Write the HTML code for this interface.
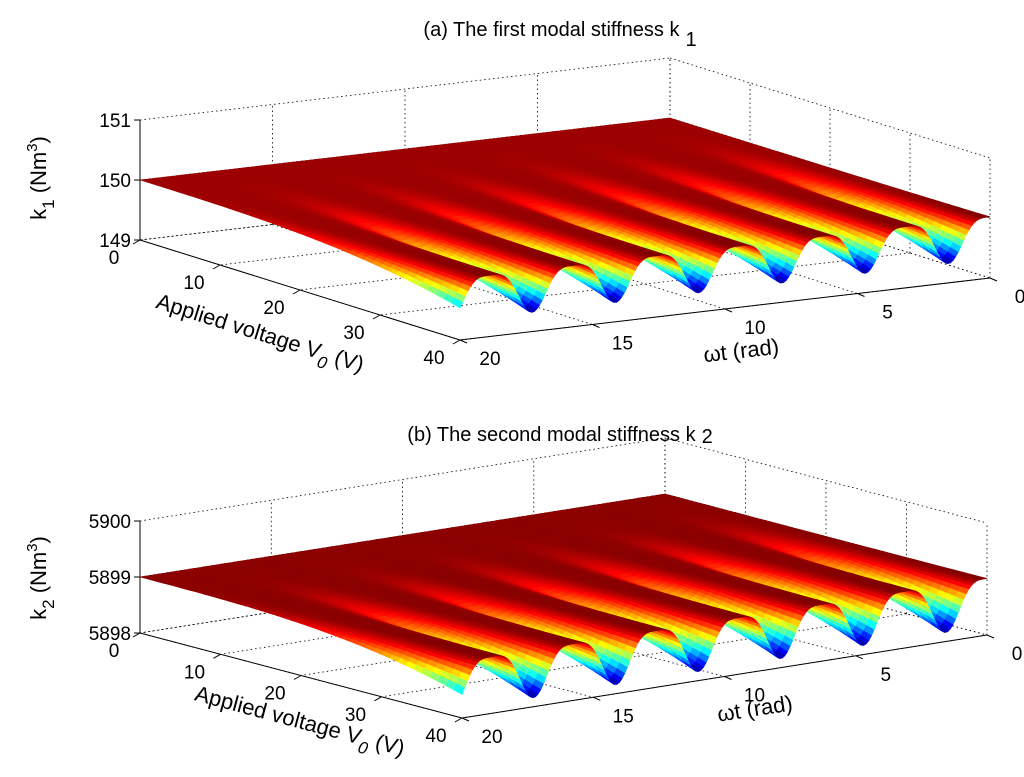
<!DOCTYPE html>
<html><head><meta charset="utf-8">
<style>
html,body{margin:0;padding:0;background:#fff;}
svg{display:block;font-family:"Liberation Sans",Arial,sans-serif;}
</style></head>
<body>
<svg id="fig" width="1024" height="777" viewBox="0 0 1024 777" xmlns="http://www.w3.org/2000/svg">
  <rect width="1024" height="777" fill="#fff"/>
  <g id="plotA"></g>
  <g id="plotB"></g>
  <text x="560" y="36" font-size="20" text-anchor="middle">(a) The first modal stiffness k<tspan dx="6" dy="10" font-size="20">1</tspan></text>
  <text x="560" y="441" font-size="20" text-anchor="middle">(b) The second modal stiffness k<tspan dx="6" dy="2" font-size="20">2</tspan></text>
  <text transform="translate(46,178) rotate(-90)" font-size="22" text-anchor="middle">k<tspan dy="8" font-size="17">1</tspan><tspan dy="-8">  (Nm</tspan><tspan dy="-9" font-size="15">3</tspan><tspan dy="9">)</tspan></text>
  <text transform="translate(46,578) rotate(-90)" font-size="22" text-anchor="middle">k<tspan dy="8" font-size="17">2</tspan><tspan dy="-8">  (Nm</tspan><tspan dy="-9" font-size="15">3</tspan><tspan dy="9">)</tspan></text>
  <text transform="translate(258,340) rotate(17.4)" font-size="22" text-anchor="middle">Applied voltage V<tspan dy="8" font-size="17" font-style="italic">0</tspan><tspan dy="-8"> (V)</tspan></text>
  <text transform="translate(298,728) rotate(15)" font-size="22" text-anchor="middle">Applied voltage V<tspan dy="8" font-size="17" font-style="italic">0</tspan><tspan dy="-8"> (V)</tspan></text>
  <text transform="translate(742,358) rotate(-6.5)" font-size="22" text-anchor="middle">ωt (rad)</text>
  <text transform="translate(756,716) rotate(-8.8)" font-size="22" text-anchor="middle">ωt (rad)</text>
</svg>
<script>
const voltageTicks = [0, 10, 20, 30, 40];
const timeTicks = [0, 5, 10, 15, 20];
const k1Ticks = [149, 150, 151];
const k2Ticks = [5898, 5899, 5900];
// [baseline at V=0, crest rise at V=40, trough depth at V=40]
const k1Params = [150, 0.02, 0.7];
const k2Params = [5899, 0.01, 0.85];

const NS = "http://www.w3.org/2000/svg";
function mk(tag, attrs, parent){
  const e = document.createElementNS(NS, tag);
  for (const k in attrs) e.setAttribute(k, attrs[k]);
  parent.appendChild(e);
  return e;
}
function jet(v){
  v = Math.max(0, Math.min(1, v));
  const c = x => Math.round(255*Math.max(0, Math.min(1, x)));
  return "rgb(" + c(1.5-Math.abs(4*v-3)) + "," + c(1.5-Math.abs(4*v-2)) + "," + c(1.5-Math.abs(4*v-1)) + ")";
}

function drawPlot(g, geo, ticks, params){
  const zmin = ticks[0], zmax = ticks[ticks.length-1];
  const P = (t, V, z) => [geo.x0 + geo.vx*V/40 + geo.tx*(20-t)/20,
                          geo.y0 + geo.vy*V/40 + geo.ty*(20-t)/20 - geo.zs*(z-zmin)];
  const val = (t, V) => { const s = Math.pow(V/40, 3); const sn = Math.sin(t);
    return params[0] + params[1]*s - params[2]*s*Math.pow(sn*sn, 2); };
  const line = (a, b, dotted, name) => {
    const l = mk("line", {x1:a[0].toFixed(1), y1:a[1].toFixed(1), x2:b[0].toFixed(1), y2:b[1].toFixed(1),
      stroke:"#000", "stroke-width": dotted ? 0.8 : 1, "stroke-dasharray": dotted ? "1.5,3" : "none"}, g);
    
    
  };
  timeTicks.forEach(t => {
    line(P(t,0,zmin), P(t,0,zmax), true, 'grid-back-t');
    line(P(t,0,zmin), P(t,40,zmin), true, 'grid-floor-t');
  });
  voltageTicks.forEach(V => {
    line(P(0,V,zmin), P(0,V,zmax), true, 'grid-back-v');
    line(P(0,V,zmin), P(20,V,zmin), true, 'grid-floor-v');
  });
  ticks.forEach(z => {
    line(P(20,0,z), P(0,0,z), true, 'grid-back-z');
    line(P(0,0,z), P(0,40,z), true, 'grid-side-z');
  });
  line(P(20,0,zmin), P(20,0,zmax), false, 'z-axis');
  line(P(20,0,zmin), P(20,40,zmin), false, 'v-axis');
  line(P(20,40,zmin), P(0,40,zmin), false, 't-axis');
  ticks.forEach(z => {
    const p = P(20,0,z);
    line([p[0]-6,p[1]], p, false, 'z-tick');
    const tx = mk("text", {x:p[0]-9, y:p[1]+7, "font-size":19, "text-anchor":"end"}, g);
    tx.textContent = z;
    
    
  });
  voltageTicks.forEach(V => {
    const p = P(20,V,zmin);
    line(p, [p[0]-7,p[1]+4], false, 'v-tick');
    const tx = mk("text", {x:p[0]-26, y:p[1]+24, "font-size":19, "text-anchor":"middle"}, g);
    tx.textContent = V;
    
    
  });
  timeTicks.forEach(t => {
    const p = P(t,40,zmin);
    line(p, [p[0]+7,p[1]+3], false, 't-tick');
    const tx = mk("text", {x:p[0]+30, y:p[1]+25, "font-size":19, "text-anchor":"middle"}, g);
    tx.textContent = t;
    
    
  });
  const nt = 200, nv = 40;
  let lo = Infinity, hi = -Infinity;
  const Z = [];
  for (let i = 0; i <= nt; i++){ Z.push([]); for (let j = 0; j <= nv; j++){
    const z = val(20*i/nt, 40*j/nv); Z[i].push(z); lo = Math.min(lo,z); hi = Math.max(hi,z); } }
  const cells = [];
  for (let i = 0; i < nt; i++) for (let j = 0; j < nv; j++){
    const t = 20*(i+0.5)/nt, V = 40*(j+0.5)/nv;
    cells.push([geo.vy*V/40 + geo.ty*(20-t)/20, i, j]);
  }
  cells.sort((a,b) => a[0]-b[0]);
  const sg = mk("g", {}, g);
  
  
  cells.forEach(c => {
    const i = c[1], j = c[2];
    const t0 = 20*i/nt, t1 = 20*(i+1)/nt, V0 = 40*j/nv, V1 = 40*(j+1)/nv;
    const pts = [P(t0,V0,Z[i][j]), P(t1,V0,Z[i+1][j]), P(t1,V1,Z[i+1][j+1]), P(t0,V1,Z[i][j+1])];
    const zm = (Z[i][j]+Z[i+1][j]+Z[i+1][j+1]+Z[i][j+1])/4;
    const col = jet((zm-lo)/(hi-lo));
    const poly = mk("polygon", {points: pts.map(p => p[0].toFixed(1)+","+p[1].toFixed(1)).join(" "),
      fill: col, stroke: col, "stroke-width": 0.6}, sg);
    
    
  });
}

drawPlot(document.getElementById("plotA"),
  {x0:140, y0:240, vx:320, vy:100, tx:530, ty:-62, zs:60}, k1Ticks, k1Params);
drawPlot(document.getElementById("plotB"),
  {x0:140, y0:633, vx:322, vy:85, tx:525, ty:-83, zs:56}, k2Ticks, k2Params);
</script>
</body></html>
